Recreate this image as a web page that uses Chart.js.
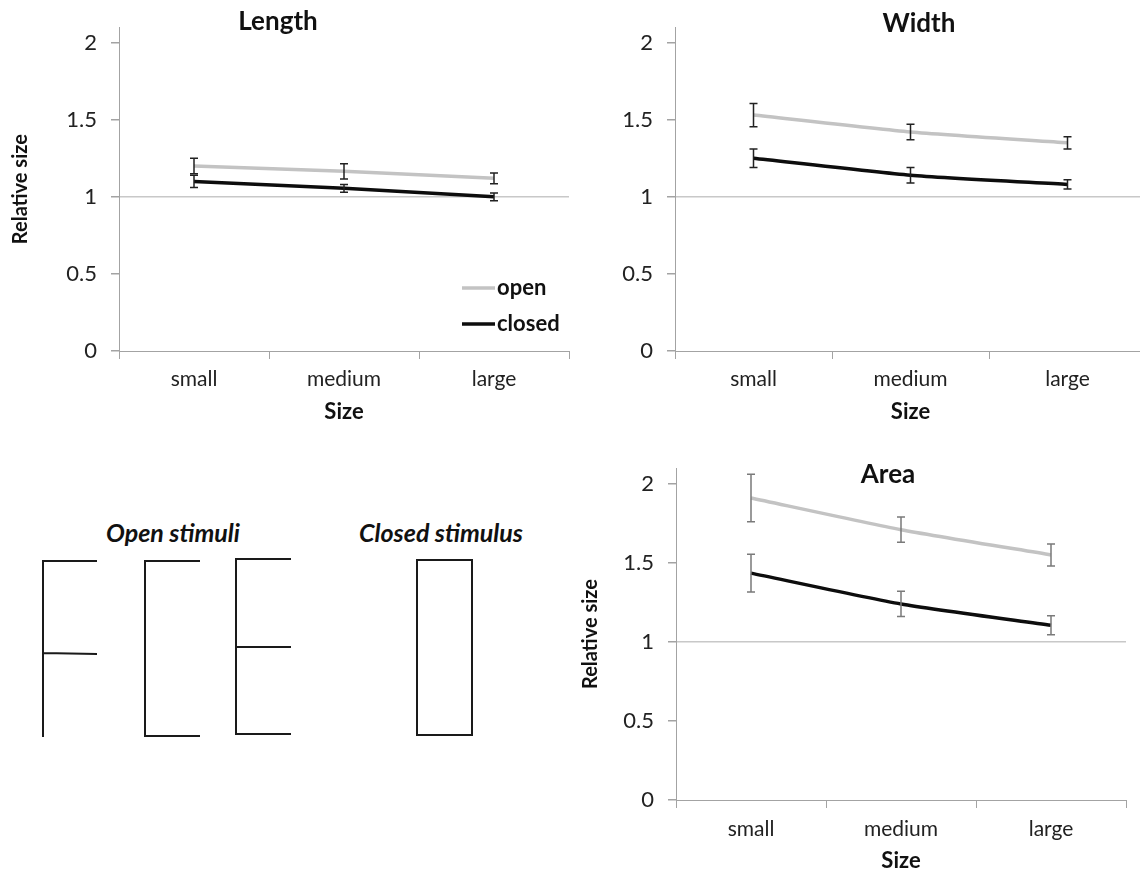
<!DOCTYPE html>
<html>
<head>
<meta charset="utf-8">
<script src="https://cdn.jsdelivr.net/npm/chart.js@4.4.1/dist/chart.umd.min.js"></script>
<style>
  body { margin: 0; background: #fff; width: 1140px; height: 874px; overflow: hidden; position: relative; font-family: Lato, sans-serif; }
  canvas { position: absolute; }
  .stimLabel { position: absolute; font-weight: bold; font-style: italic; font-size: 25px; color: #111; transform: translate(-50%, -50%); white-space: nowrap; }
  svg { position: absolute; left: 0; top: 0; }
</style>
</head>
<body>
<canvas id="lengthChart" width="570" height="440" style="left:0;top:0"></canvas>
<canvas id="widthChart" width="576" height="440" style="left:570px;top:0"></canvas>
<canvas id="areaChart" width="570" height="434" style="left:570px;top:440px"></canvas>

<div class="stimLabel" style="left:173px;top:532px">Open stimuli</div>
<div class="stimLabel" style="left:441px;top:532px">Closed stimulus</div>
<svg width="570" height="874">
  <g stroke="#1a1a1a" stroke-width="2" fill="none">
    <!-- F -->
    <path d="M43 737 L43 561 L97 561 M43 653 L97 654"/>
    <!-- C -->
    <path d="M200 561 L145 561 L145 736 L200 736"/>
    <!-- E -->
    <path d="M291 559 L236 559 L236 734 L291 734 M236 647 L291 647"/>
    <!-- closed rectangle -->
    <rect x="417" y="560" width="55" height="175"/>
  </g>
</svg>

<script>
const sizeLabels = ['small', 'medium', 'large'];
const yTicks = [0, 0.5, 1, 1.5, 2];
const seriesNames = ['open', 'closed'];

const lengthOpen = [1.20, 1.165, 1.12];
const lengthOpenErr = [0.05, 0.05, 0.035];
const lengthClosed = [1.10, 1.055, 1.00];
const lengthClosedErr = [0.04, 0.025, 0.025];

const widthOpen = [1.53, 1.42, 1.35];
const widthOpenErr = [0.075, 0.05, 0.04];
const widthClosed = [1.25, 1.14, 1.08];
const widthClosedErr = [0.06, 0.05, 0.03];

const areaOpen = [1.91, 1.71, 1.55];
const areaOpenErr = [0.15, 0.08, 0.07];
const areaClosed = [1.435, 1.24, 1.105];
const areaClosedErr = [0.12, 0.08, 0.06];

Chart.defaults.font.family = 'Lato';
Chart.defaults.color = '#222';

const OPEN_COLOR = '#c3c3c3';
const CLOSED_COLOR = '#0d0d0d';
const AXIS_COLOR = '#a3a3a3';

// error bars drawn on top of the lines
const errorBars = {
  id: 'errorBars',
  afterDatasetsDraw(chart, args, opts) {
    const { ctx, scales: { x, y } } = chart;
    ctx.save();
    ctx.strokeStyle = opts.color;
    ctx.lineWidth = 1.5;
    chart.data.datasets.forEach(ds => {
      ds.data.forEach((v, j) => {
        const e = ds.errors[j];
        const px = x.getPixelForValue(j);
        const top = y.getPixelForValue(v + e);
        const bot = y.getPixelForValue(v - e);
        ctx.beginPath();
        ctx.moveTo(px, top); ctx.lineTo(px, bot);
        ctx.moveTo(px - 4, top); ctx.lineTo(px + 4, top);
        ctx.moveTo(px - 4, bot); ctx.lineTo(px + 4, bot);
        ctx.stroke();
      });
    });
    ctx.restore();
  }
};

// panel title + optional in-plot legend
const panelText = {
  id: 'panelText',
  afterDraw(chart, args, opts) {
    const ctx = chart.ctx;
    ctx.save();
    ctx.fillStyle = '#111';
    ctx.font = 'bold 26px Lato';
    ctx.textAlign = 'center';
    ctx.textBaseline = 'middle';
    ctx.fillText(opts.title, opts.titleX, opts.titleY);
    if (opts.legend) {
      ctx.font = 'bold 22px Lato';
      ctx.textAlign = 'left';
      chart.data.datasets.forEach((ds, i) => {
        const ly = opts.legendY + i * 36;
        ctx.strokeStyle = ds.borderColor;
        ctx.lineWidth = 3.5;
        ctx.beginPath();
        ctx.moveTo(opts.legendX, ly);
        ctx.lineTo(opts.legendX + 33, ly);
        ctx.stroke();
        ctx.fillText(ds.label, opts.legendX + 35, ly);
      });
    }
    ctx.restore();
  }
};

function makeChart(id, open, openErr, closed, closedErr, cfg) {
  return new Chart(document.getElementById(id), {
    type: 'line',
    data: {
      labels: sizeLabels,
      datasets: [
        { label: seriesNames[0], data: open, errors: openErr, borderColor: OPEN_COLOR, borderWidth: 3.5, pointRadius: 0, tension: cfg.tension },
        { label: seriesNames[1], data: closed, errors: closedErr, borderColor: CLOSED_COLOR, borderWidth: 3.5, pointRadius: 0, tension: cfg.tension }
      ]
    },
    options: {
      responsive: false,
      animation: false,
      layout: { padding: cfg.padding },
      plugins: {
        legend: { display: false },
        tooltip: { enabled: false },
        errorBars: { color: cfg.errColor },
        panelText: cfg.text
      },
      scales: {
        x: {
          offset: true,
          grid: { offset: true, drawOnChartArea: false, tickLength: 8, tickColor: AXIS_COLOR },
          border: { color: AXIS_COLOR },
          ticks: { font: { size: 21 }, padding: cfg.xPad, color: '#222' },
          title: { display: true, text: 'Size', font: { size: 22, weight: 'bold' }, color: '#111', padding: { top: 0, bottom: cfg.sizePad } },
          afterFit: s => { s.height = cfg.xHeight; }
        },
        y: {
          min: 0,
          max: 2.1,
          afterBuildTicks: s => { s.ticks = yTicks.map(v => ({ value: v })); },
          grid: {
            color: c => (c.tick && c.tick.value === 1) ? '#c8c8c8' : 'rgba(0,0,0,0)',
            tickColor: AXIS_COLOR,
            tickLength: 8,
            lineWidth: 1.5
          },
          border: { color: AXIS_COLOR },
          ticks: { font: { size: 22 }, padding: 14, color: '#222', callback: v => String(v) },
          title: { display: cfg.yTitle, text: 'Relative size', font: { size: 20, weight: 'bold' }, color: '#111', padding: { top: 9, bottom: 0 } },
          afterFit: s => { s.width = cfg.yWidth; }
        }
      }
    },
    plugins: [errorBars, panelText]
  });
}

makeChart('lengthChart', lengthOpen, lengthOpenErr, lengthClosed, lengthClosedErr, {
  tension: 0,
  padding: { left: 0, right: 1, top: 15, bottom: 0 },
  yWidth: 119, xHeight: 89, xPad: 8, sizePad: 15,
  yTitle: true, errColor: '#222',
  text: { title: 'Length', titleX: 278, titleY: 22, legend: true, legendX: 462, legendY: 288 }
});

makeChart('widthChart', widthOpen, widthOpenErr, widthClosed, widthClosedErr, {
  tension: 0.2,
  padding: { left: 0, right: 0, top: 16, bottom: 0 },
  yWidth: 105, xHeight: 89, xPad: 8, sizePad: 15,
  yTitle: false, errColor: '#222',
  text: { title: 'Width', titleX: 349, titleY: 24, legend: false }
});

makeChart('areaChart', areaOpen, areaOpenErr, areaClosed, areaClosedErr, {
  tension: 0.2,
  padding: { left: 0, right: 14, top: 28, bottom: 0 },
  yWidth: 106, xHeight: 74, xPad: 9, sizePad: 0,
  yTitle: true, errColor: '#7a7a7a',
  text: { title: 'Area', titleX: 318, titleY: 35, legend: false }
});
</script>
</body>
</html>
